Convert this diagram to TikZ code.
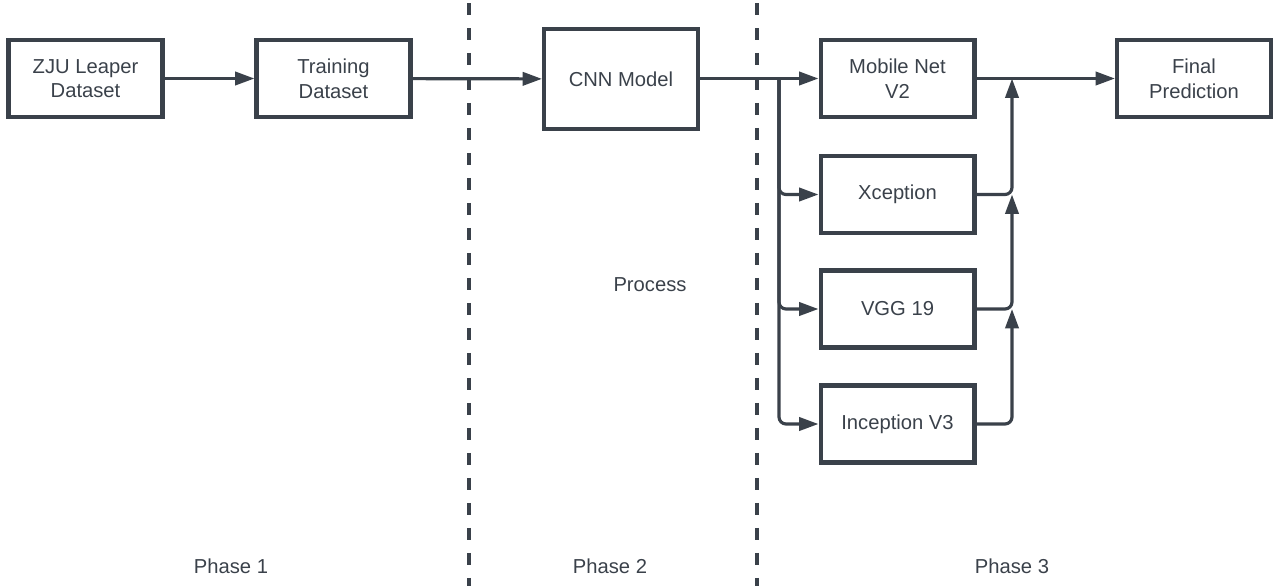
\documentclass[tikz,border=0pt]{standalone}
\usepackage{fontspec}
\setmainfont{Liberation Sans}
\usetikzlibrary{arrows.meta}
\definecolor{ink}{HTML}{3A414A}
\begin{document}
\begin{tikzpicture}[x=0.02cm, y=-0.02cm,
  font=\fontsize{11.5}{14}\selectfont, text=ink,
  block/.style={draw=ink, line width=2.3pt, align=center,
    minimum width=3.08cm, minimum height=1.54cm, inner sep=2pt},
  link/.style={draw=ink, line width=1.8pt, rounded corners=4pt,
    -{Triangle[length=11pt, width=7.5pt]}},
  border/.style={draw=ink, line width=2.2pt, dash pattern=on 0.24cm off 0.26cm}]
  \useasboundingbox (0,0) rectangle (1275,586);
  % phase borders
  \draw[border] (469,3) -- (469,586);
  \draw[border] (757,3) -- (757,586);
  % blocks
  \node[block] (zju) at (85.5,78.5) {ZJU Leaper\\Dataset};
  \node[block] (train) at (333.5,78.5) {Training\\Dataset};
  \node[block, minimum height=2cm] (cnn) at (621,79) {CNN Model};
  \node[block] (mobile) at (897.5,78.5) {Mobile Net\\V2};
  \node[block] (xcep) at (897.5,194.5) {Xception};
  \node[block] (vgg) at (897.5,309) {VGG 19};
  \node[block] (incep) at (897.5,424) {Inception V3};
  \node[block] (final) at (1194,78.5) {Final\\Prediction};
  \coordinate (split) at (779,78.5);
  \coordinate (join) at (1012,78.5);
  % links
  \draw[link] (zju) -- (train);
  \draw[link] (train) -- (cnn);
  \draw[link] (cnn.east |- split) -- (mobile);
  \draw[link] (mobile) -- (final);
  \foreach \n in {xcep,vgg,incep} {
    \draw[link] (split) |- (\n);
  }
  \draw[link] (xcep) -| (join);
  \draw[link] (vgg) -| (join |- xcep);
  \draw[link] (incep) -| (join |- vgg);
  % labels
  \node (process) at (650,285) {Process};
  \node (ph1) at (231,566) {Phase 1};
  \node (ph2) at (610,566) {Phase 2};
  \node (ph3) at (1012,566) {Phase 3};
\end{tikzpicture}
\end{document}
